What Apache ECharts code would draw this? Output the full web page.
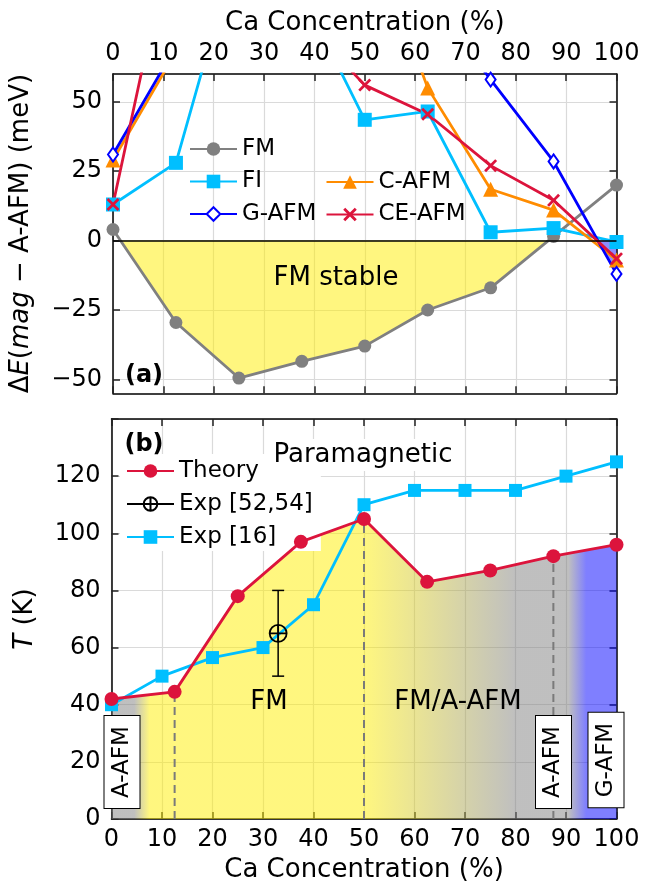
<!DOCTYPE html>
<html><head><meta charset="utf-8">
<script src="https://cdn.jsdelivr.net/npm/echarts@6/dist/echarts.min.js"></script>
<style>html,body{margin:0;padding:0;background:#fff}#c{width:645px;height:884px}</style>
</head><body><div id="c"></div>
<script>
// ---------- data: panel (a) ----------
const caTop = [0, 12.5, 25, 37.5, 50, 62.5, 75, 87.5, 100];
const fm    = [4, -29.5, -49.5, -43.5, -38, -25, -17, 1.5, 20];
const fi    = [13, 28, 108, 89, 43.5, 46.5, 3, 4.5, -0.5];
const cafm  = [29, 68, null, null, 117, 55, 18.5, 11, -7];
const gafm  = [31, 70, null, null, null, 88, 58, 28.5, -12];
const ceafm = [13, 118, null, 80, 56, 45.5, 27, 14.5, -6.5];
const yTopTicks = [-50, -25, 0, 25, 50];
// ---------- data: panel (b) ----------
const caTheory = [0, 12.5, 25, 37.5, 50, 62.5, 75, 87.5, 100];
const theory   = [42, 44.5, 78, 97, 105, 83, 87, 92, 96];
const caExp16  = [0, 10, 20, 30, 40, 50, 60, 70, 80, 90, 100];
const exp16    = [40, 50, 56.5, 60, 75, 110, 115, 115, 115, 120, 125];
const caExp52  = [33];
const exp52    = [65];
const exp52Err = [15];
const phaseBoundaries = [12.5, 50, 87.5];
const yBotTicks = [0, 20, 40, 60, 80, 100, 120];

const FONT = 'DejaVu Sans';
const pair = (xs, ys) => xs.map((x, i) => [x, ys[i] == null ? '-' : ys[i]]);

function negativeRuns(xs, ys) {
  const polys = []; let cur = null;
  for (let i = 0; i < xs.length; i++) {
    const x = xs[i], y = ys[i];
    if (i > 0) {
      const x0 = xs[i-1], y0 = ys[i-1];
      if ((y0 < 0) !== (y < 0)) {
        const xc = x0 + (0 - y0) * (x - x0) / (y - y0);
        if (cur) { cur.push([xc, 0]); polys.push(cur); cur = null; }
        else { cur = [[xc, 0]]; }
      }
    }
    if (y < 0) { if (!cur) cur = [[x, 0]]; cur.push([x, y]); }
  }
  if (cur) { cur.push([xs[xs.length-1], 0]); polys.push(cur); }
  return polys;
}

const YELLOW = 'rgba(255,238,0,0.5)';
const GRAY = 'rgba(128,128,128,0.5)';
const BLUEA = 'rgba(0,0,255,0.5)';
const gridLine = {show: true, lineStyle: {color: '#dadada', width: 1.2}};
const frameLine = {show: true, onZero: false, lineStyle: {color: '#000', width: 1.5}};
const tick = {show: true, inside: true, length: 7, lineStyle: {color: '#222', width: 1.5}};
const lblStyle = {show: true, fontSize: 24, fontFamily: FONT, color: '#000'};
const nameStyle = {fontSize: 26, fontFamily: FONT, color: '#000'};
const minus = v => v < 0 ? '\u2212' + Math.abs(v) : String(v);

const X_X = 'path://M3,0 L10,7 L17,0 L20,3 L13,10 L20,17 L17,20 L10,13 L3,20 L0,17 L7,10 L0,3 Z';
const OPLUS = 'path://M0,10 A10,10 0 1 1 20,10 A10,10 0 1 1 0,10 Z M0,10 L20,10 M10,0 L10,20';

function lineSeries(name, xs, ys, color, symbol, size, extra) {
  return Object.assign({
    name, type: 'line', xAxisIndex: 0, yAxisIndex: 0,
    data: pair(xs, ys), symbol, symbolSize: size,
    lineStyle: {color, width: 2.8}, itemStyle: {color},
    clip: true, connectNulls: false, z: 3
  }, extra || {});
}

const option = {
  animation: false,
  backgroundColor: '#fff',
  grid: [
    {left: 111.5, right: 28.5, top: 74, height: 319.3},
    {left: 111.5, right: 28.5, top: 419, height: 400}
  ],
  xAxis: [
    {gridIndex: 0, type: 'value', position: 'top', min: 0, max: 100, interval: 10,
     axisLine: frameLine, axisTick: tick, splitLine: gridLine,
     axisLabel: Object.assign({margin: 8}, lblStyle),
     name: 'Ca Concentration (%)', nameLocation: 'middle', nameGap: 38, nameTextStyle: nameStyle},
    {gridIndex: 0, type: 'value', position: 'bottom', min: 0, max: 100, interval: 10,
     axisLine: frameLine, axisTick: tick, splitLine: {show: false}, axisLabel: {show: false}},
    {gridIndex: 1, type: 'value', position: 'bottom', min: 0, max: 100, interval: 10,
     axisLine: frameLine, axisTick: tick, splitLine: gridLine,
     axisLabel: Object.assign({margin: 9}, lblStyle),
     name: 'Ca Concentration (%)', nameLocation: 'middle', nameGap: 38, nameTextStyle: nameStyle},
    {gridIndex: 1, type: 'value', position: 'top', min: 0, max: 100, interval: 10,
     axisLine: frameLine, axisTick: tick, splitLine: {show: false}, axisLabel: {show: false}}
  ],
  yAxis: [
    {gridIndex: 0, type: 'value', position: 'left', min: -55, max: 60,
     axisLine: frameLine, axisTick: Object.assign({customValues: yTopTicks}, tick), splitLine: gridLine,
     axisLabel: Object.assign({margin: 11, customValues: yTopTicks, formatter: minus}, lblStyle),
     name: '\u0394{i|E}({i|mag} \u2212 A-AFM) (meV)', nameLocation: 'middle', nameGap: 79,
     nameTextStyle: Object.assign({rich: {i: {fontStyle: 'italic', fontSize: 26, fontFamily: FONT, color: '#000'}}}, nameStyle)},
    {gridIndex: 0, type: 'value', position: 'right', min: -55, max: 60,
     axisLine: frameLine, axisTick: Object.assign({customValues: yTopTicks}, tick), splitLine: {show: false}, axisLabel: {show: false}},
    {gridIndex: 1, type: 'value', position: 'left', min: 0, max: 140, interval: 20,
     axisLine: frameLine, axisTick: tick, splitLine: gridLine,
     axisLabel: Object.assign({margin: 11, customValues: yBotTicks}, lblStyle),
     name: '{i|T} (K)', nameLocation: 'middle', nameGap: 73,
     nameTextStyle: Object.assign({rich: {i: {fontStyle: 'italic', fontSize: 26, fontFamily: FONT, color: '#000'}}}, nameStyle)},
    {gridIndex: 1, type: 'value', position: 'right', min: 0, max: 140, interval: 20,
     axisLine: frameLine, axisTick: tick, splitLine: {show: false}, axisLabel: {show: false}}
  ],
  legend: [
    {data: ['FM', 'FI', 'G-AFM'], orient: 'vertical', left: 189, top: 137, padding: 0,
     itemWidth: 47, itemHeight: 17, itemGap: 8.5, selectedMode: false,
     textStyle: {fontSize: 23, fontFamily: FONT, color: '#000', lineHeight: 24}},
    {data: ['C-AFM', 'CE-AFM'], orient: 'vertical', left: 325.5, top: 170, padding: 0,
     itemWidth: 47, itemHeight: 17, itemGap: 8.5, selectedMode: false,
     textStyle: {fontSize: 23, fontFamily: FONT, color: '#000', lineHeight: 24}},
    {data: ['Theory', 'Exp [52,54]', 'Exp [16]'], orient: 'vertical', left: 120, top: 454,
     padding: [5, 8, 2, 6], backgroundColor: '#fff',
     itemWidth: 47, itemHeight: 17, itemGap: 9, selectedMode: false,
     textStyle: {fontSize: 23, fontFamily: FONT, color: '#000', lineHeight: 24}}
  ],
  series: [
    {type: 'custom', name: 'fills', xAxisIndex: 0, yAxisIndex: 0, data: [[0, 0]], z: 1, silent: true,
     renderItem: (params, api) => ({type: 'group', children:
       negativeRuns(caTop, fm).map(p => ({type: 'polygon', shape: {points: p.map(q => api.coord(q))}, style: {fill: YELLOW}}))
       .concat(negativeRuns(caTop, gafm.map(v => v == null ? 100 : v)).map(p => ({type: 'polygon', shape: {points: p.map(q => api.coord(q))}, style: {fill: 'rgba(0,0,255,0.45)'}})))
     })},
    lineSeries('FM', caTop, fm, '#808080', 'circle', 13, {
      markLine: {silent: true, symbol: 'none', label: {show: false}, lineStyle: {color: '#000', width: 1.6, type: 'solid'}, data: [{yAxis: 0}]}
    }),
    lineSeries('FI', caTop, fi, '#00bfff', 'rect', 14),
    lineSeries('C-AFM', caTop, cafm, '#ff8c00', 'triangle', 15),
    lineSeries('G-AFM', caTop, gafm, '#0000ff', 'emptyDiamond', [10, 14], {itemStyle: {color: '#0000ff', borderWidth: 2.5}}),
    lineSeries('CE-AFM', caTop, ceafm, '#dc143c', X_X, 13),

    {type: 'line', name: 'theoryArea', xAxisIndex: 2, yAxisIndex: 2, data: pair(caTheory, theory),
     symbol: 'none', lineStyle: {width: 0, opacity: 0}, z: 1, silent: true,
     areaStyle: {opacity: 1, color: new echarts.graphic.LinearGradient(0, 0, 1, 0, [
       {offset: 0, color: GRAY}, {offset: 0.045, color: GRAY},
       {offset: 0.075, color: YELLOW}, {offset: 0.5, color: YELLOW},
       {offset: 0.8, color: GRAY}, {offset: 0.905, color: GRAY},
       {offset: 0.94, color: BLUEA}, {offset: 1, color: BLUEA}])}},
    {type: 'custom', name: 'boundaries', xAxisIndex: 2, yAxisIndex: 2, z: 2, silent: true,
     data: phaseBoundaries.map(x => [x, theory[caTheory.indexOf(x)]]),
     renderItem: (params, api) => {
       const p0 = api.coord([api.value(0), 0]), p1 = api.coord([api.value(0), api.value(1)]);
       return {type: 'line', shape: {x1: p0[0], y1: p0[1], x2: p1[0], y2: p1[1]},
               style: {stroke: '#7a7a7a', lineWidth: 2, lineDash: [8, 5]}};
     }},
    {type: 'line', name: 'Exp [16]', xAxisIndex: 2, yAxisIndex: 2, data: pair(caExp16, exp16),
     symbol: 'rect', symbolSize: 13, lineStyle: {color: '#00bfff', width: 2.8}, itemStyle: {color: '#00bfff'}, z: 3},
    {type: 'custom', name: 'errbar', xAxisIndex: 2, yAxisIndex: 2, z: 4, silent: true,
     data: caExp52.map((x, i) => [x, exp52[i], exp52Err[i]]),
     renderItem: (params, api) => {
       const x = api.value(0), y = api.value(1), e = api.value(2);
       const a = api.coord([x, y - e]), b = api.coord([x, y + e]);
       const st = {stroke: '#000', lineWidth: 1.5};
       return {type: 'group', children: [
         {type: 'line', shape: {x1: a[0], y1: a[1], x2: b[0], y2: b[1]}, style: st},
         {type: 'line', shape: {x1: a[0]-6, y1: a[1], x2: a[0]+6, y2: a[1]}, style: st},
         {type: 'line', shape: {x1: b[0]-6, y1: b[1], x2: b[0]+6, y2: b[1]}, style: st}
       ]};
     }},
    {type: 'line', name: 'Exp [52,54]', xAxisIndex: 2, yAxisIndex: 2, data: pair(caExp52, exp52),
     symbol: OPLUS, symbolSize: 17, lineStyle: {color: '#000', width: 1.5},
     itemStyle: {color: 'rgba(0,0,0,0)', borderColor: '#000', borderWidth: 1.8}, z: 5},
    {type: 'line', name: 'Theory', xAxisIndex: 2, yAxisIndex: 2, data: pair(caTheory, theory),
     symbol: 'circle', symbolSize: 14, lineStyle: {color: '#dc143c', width: 2.8}, itemStyle: {color: '#dc143c'}, z: 5}
  ],
  graphic: [
    {type: 'text', z: 100, x: 144, y: 376, style: {text: '(a)', font: 'bold 24px "DejaVu Sans"', fill: '#000', align: 'center', verticalAlign: 'middle'}},
    {type: 'text', z: 100, x: 336, y: 278, style: {text: 'FM stable', font: '26px "DejaVu Sans"', fill: '#000', align: 'center', verticalAlign: 'middle'}},
    {type: 'text', z: 100, x: 144, y: 445, style: {text: '(b)', font: 'bold 24px "DejaVu Sans"', fill: '#000', align: 'center', verticalAlign: 'middle'}},
    {type: 'text', z: 100, x: 363, y: 455, style: {text: 'Paramagnetic', font: '26px "DejaVu Sans"', fill: '#000', align: 'center', verticalAlign: 'middle', backgroundColor: '#fff', padding: [3, 5]}},
    {type: 'text', z: 100, x: 269, y: 702, style: {text: 'FM', font: '26px "DejaVu Sans"', fill: '#000', align: 'center', verticalAlign: 'middle'}},
    {type: 'text', z: 100, x: 458, y: 702, style: {text: 'FM/A-AFM', font: '26px "DejaVu Sans"', fill: '#000', align: 'center', verticalAlign: 'middle'}},
    {type: 'text', z: 100, x: 122, y: 762, rotation: Math.PI / 2, style: {text: 'A-AFM', font: '23px "DejaVu Sans"', fill: '#000', align: 'center', verticalAlign: 'middle', backgroundColor: '#fff', borderColor: '#000', borderWidth: 1, padding: [5, 10], lineHeight: 25}},
    {type: 'text', z: 100, x: 553.5, y: 762, rotation: Math.PI / 2, style: {text: 'A-AFM', font: '23px "DejaVu Sans"', fill: '#000', align: 'center', verticalAlign: 'middle', backgroundColor: '#fff', borderColor: '#000', borderWidth: 1, padding: [5, 10], lineHeight: 25}},
    {type: 'text', z: 100, x: 606, y: 760, rotation: Math.PI / 2, style: {text: 'G-AFM', font: '23px "DejaVu Sans"', fill: '#000', align: 'center', verticalAlign: 'middle', backgroundColor: '#fff', borderColor: '#000', borderWidth: 1, padding: [5, 10], lineHeight: 25}}
  ]
};
const chart = echarts.init(document.getElementById('c'));
chart.setOption(option);
</script>
</body></html>
